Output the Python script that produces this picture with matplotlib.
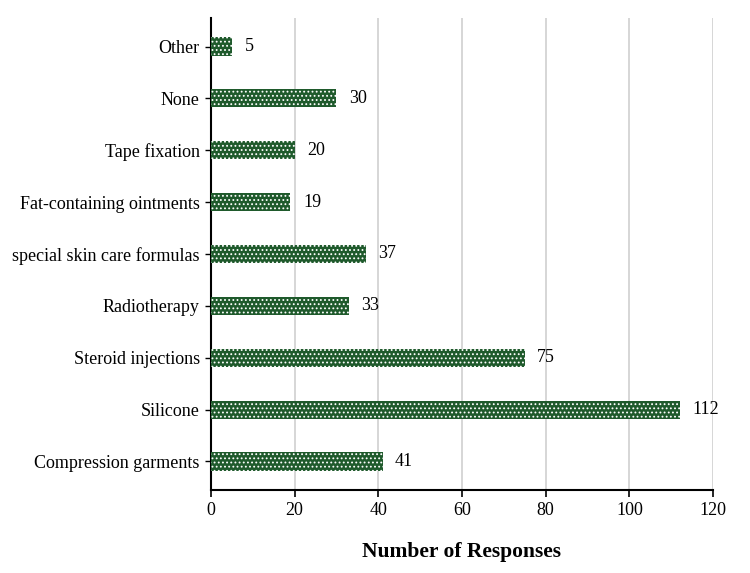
import matplotlib.pyplot as plt

plt.rcParams['font.family'] = ['Liberation Serif', 'DejaVu Serif']
plt.rcParams['hatch.linewidth'] = 0.8

categories = ['Compression garments', 'Silicone', 'Steroid injections', 'Radiotherapy',
              'special skin care formulas', 'Fat-containing ointments', 'Tape fixation',
              'None', 'Other']
responses = [41, 112, 75, 33, 37, 19, 20, 30, 5]

fig = plt.figure(figsize=(7.5, 5.73), dpi=100)
ax = fig.add_axes([0.2813, 0.1449, 0.6694, 0.8237])

ypos = range(len(categories))
ax.barh(ypos, responses, height=0.35, color='#1f5a2c', edgecolor='white',
        linewidth=0, hatch='....', zorder=3)
for y, v in zip(ypos, responses):
    ax.text(v + 3, y, str(v), va='center', ha='left', fontsize=13)

ax.set_yticks(list(ypos))
ax.set_yticklabels(categories, fontsize=13)
ax.set_ylim(-0.55, 8.55)
ax.set_xlim(0, 120)
ax.set_xticks(range(0, 121, 20))
ax.tick_params(axis='x', labelsize=13, direction='out', length=5, width=1.2, pad=4)
ax.tick_params(axis='y', direction='out', length=4, width=1, pad=4)
ax.grid(axis='x', color='#d0d0d0', linewidth=1.2, zorder=0)
for s in ['top', 'right']:
    ax.spines[s].set_visible(False)
ax.spines['left'].set_linewidth(1.5)
ax.spines['bottom'].set_linewidth(1.5)
ax.set_xlabel('Number of Responses', fontsize=15.5, fontweight='bold', labelpad=16)

plt.savefig('out.png', dpi=100)
